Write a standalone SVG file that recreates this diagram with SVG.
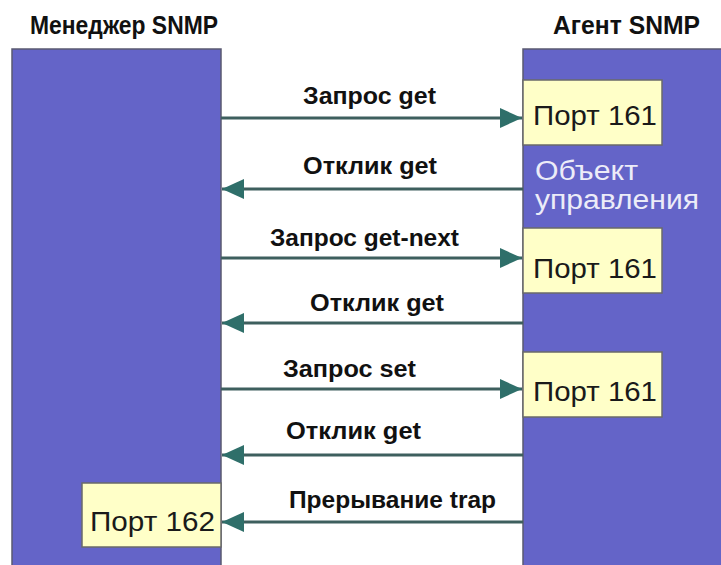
<svg xmlns="http://www.w3.org/2000/svg" width="721" height="565" viewBox="0 0 721 565">
<style>
.col{fill:#6464c8;stroke:#5a5a70;stroke-width:1.5}
.port{fill:#ffffc8;stroke:#6a6a6a;stroke-width:1.5}
.ptxt{font-family:"Liberation Sans",Arial,sans-serif;font-size:28px;fill:#1a1a1a}
.lbl{font-family:"Liberation Sans",Arial,sans-serif;font-size:23px;font-weight:bold;fill:#111}
.ttl{font-family:"Liberation Sans",Arial,sans-serif;font-size:26px;font-weight:bold;fill:#111}
.obj{font-family:"Liberation Sans",Arial,sans-serif;font-size:27px;fill:#ececf8}
.ln{stroke:#3e5f5e;stroke-width:3;fill:none}
</style>
<defs>
<marker id="ah" markerWidth="24" markerHeight="22" refX="22" refY="11" orient="auto" markerUnits="userSpaceOnUse">
<path d="M0,1 L22,11 L0,21 Z" fill="#2f6f6a"/>
</marker>
</defs>
<text class="ttl" x="30" y="34" textLength="188" lengthAdjust="spacingAndGlyphs">Менеджер SNMP</text>
<text class="ttl" x="553" y="34" textLength="147" lengthAdjust="spacingAndGlyphs">Агент SNMP</text>
<g id="manager">
<rect class="col" x="12" y="49" width="209" height="520"/>
</g>
<g id="agent">
<rect class="col" x="523" y="49" width="204" height="520"/>
<text class="obj" x="535" y="180" textLength="103" lengthAdjust="spacingAndGlyphs">Объект</text>
<text class="obj" x="535" y="209" textLength="164" lengthAdjust="spacingAndGlyphs">управления</text>
</g>
<g id="port161a">
<rect class="port" x="523" y="80" width="139" height="65"/>
<text class="ptxt" x="533" y="125" textLength="124" lengthAdjust="spacingAndGlyphs">Порт 161</text>
</g>
<g id="port161b">
<rect class="port" x="523" y="228" width="139" height="65"/>
<text class="ptxt" x="533" y="278" textLength="124" lengthAdjust="spacingAndGlyphs">Порт 161</text>
</g>
<g id="port161c">
<rect class="port" x="523" y="352" width="139" height="65"/>
<text class="ptxt" x="533" y="401" textLength="124" lengthAdjust="spacingAndGlyphs">Порт 161</text>
</g>
<g id="port162">
<rect class="port" x="82" y="483" width="139" height="64"/>
<text class="ptxt" x="90" y="531" textLength="125" lengthAdjust="spacingAndGlyphs">Порт 162</text>
</g>
<g id="connectors">
<line class="ln" x1="221" y1="118" x2="522" y2="118" marker-end="url(#ah)"/>
<line class="ln" x1="523" y1="189" x2="222" y2="189" marker-end="url(#ah)"/>
<line class="ln" x1="221" y1="258" x2="522" y2="258" marker-end="url(#ah)"/>
<line class="ln" x1="523" y1="323" x2="222" y2="323" marker-end="url(#ah)"/>
<line class="ln" x1="221" y1="389" x2="522" y2="389" marker-end="url(#ah)"/>
<line class="ln" x1="523" y1="455" x2="222" y2="455" marker-end="url(#ah)"/>
<line class="ln" x1="523" y1="522" x2="222" y2="522" marker-end="url(#ah)"/>
<text class="lbl" x="303" y="104" textLength="133" lengthAdjust="spacingAndGlyphs">Запрос get</text>
<text class="lbl" x="303" y="174" textLength="134" lengthAdjust="spacingAndGlyphs">Отклик get</text>
<text class="lbl" x="270" y="246" textLength="189" lengthAdjust="spacingAndGlyphs">Запрос get-next</text>
<text class="lbl" x="310" y="311" textLength="134" lengthAdjust="spacingAndGlyphs">Отклик get</text>
<text class="lbl" x="283" y="377" textLength="133" lengthAdjust="spacingAndGlyphs">Запрос set</text>
<text class="lbl" x="286" y="439" textLength="135" lengthAdjust="spacingAndGlyphs">Отклик get</text>
<text class="lbl" x="289" y="508" textLength="207" lengthAdjust="spacingAndGlyphs">Прерывание trap</text>
</g>
</svg>
